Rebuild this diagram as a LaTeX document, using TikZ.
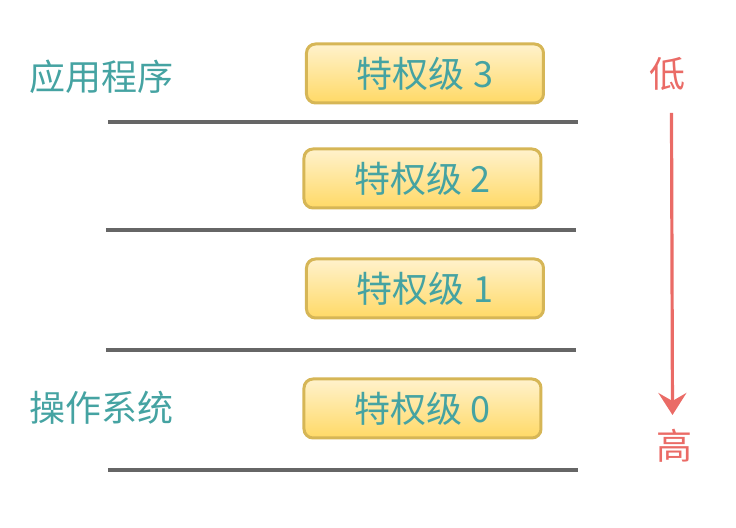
\documentclass[tikz,border=0pt]{standalone}
\usepackage{fontspec}
\setmainfont{Noto Sans CJK SC}
\usetikzlibrary{arrows.meta}
\definecolor{teal1}{HTML}{45A3A2}
\definecolor{gold1}{HTML}{D6B656}
\definecolor{ytop}{HTML}{FFF2CC}
\definecolor{ybot}{HTML}{FFD966}
\definecolor{red1}{HTML}{EA6B66}
\definecolor{line1}{HTML}{666666}
\tikzset{
  privbox/.style={draw=gold1, line width=1.5pt, rounded corners=4.5pt, top color=ytop, bottom color=ybot,
    minimum width=118.5pt, minimum height=29.5pt, text=teal1, font=\fontsize{18}{20}\selectfont, inner sep=0pt},
  sidelabel/.style={text=teal1, font=\fontsize{18}{20}\selectfont, anchor=west, inner sep=0pt},
  ringline/.style={draw=line1, line width=1.8pt},
  redlabel/.style={text=red1, font=\fontsize{18}{20}\selectfont, inner sep=0pt},
}
\begin{document}
\begin{tikzpicture}[x=0.5pt,y=-0.5pt]
\useasboundingbox (0,0) rectangle (736,528);
\node[privbox] (p3) at (425,73.5) {特权级 3};
\node[privbox] (p2) at (422.5,178.5) {特权级 2};
\node[privbox] (p1) at (425,288.5) {特权级 1};
\node[privbox] (p0) at (422.5,408.5) {特权级 0};
\node[sidelabel] (app) at (29,77) {应用程序};
\node[sidelabel] (os) at (29,408) {操作系统};
\coordinate (l1a) at (108,122); \coordinate (l1b) at (578,122);
\coordinate (l2a) at (106,230); \coordinate (l2b) at (576,230);
\coordinate (l3a) at (106,350); \coordinate (l3b) at (576,350);
\coordinate (l4a) at (108,470); \coordinate (l4b) at (578,470);
\draw[ringline] (l1a) -- (l1b);
\draw[ringline] (l2a) -- (l2b);
\draw[ringline] (l3a) -- (l3b);
\draw[ringline] (l4a) -- (l4b);
\node[redlabel] (low) at (667,74) {低};
\node[redlabel] (high) at (674,446) {高};
\coordinate (as) at (671.5,113);
\coordinate (ae) at (672.5,415);
\draw[red1, line width=1.6pt, -{Stealth[length=11pt,width=14pt,inset=4pt]}] (as) -- (ae);
\end{tikzpicture}
\end{document}
